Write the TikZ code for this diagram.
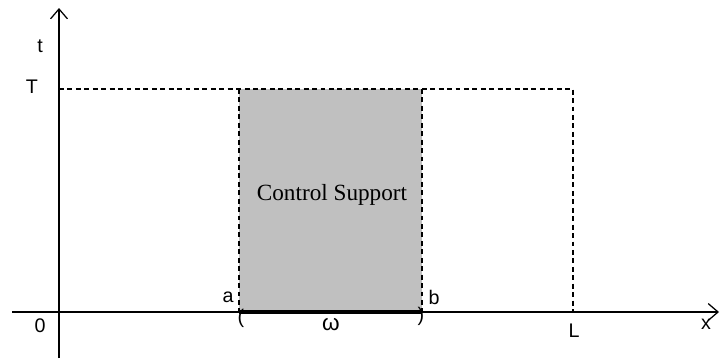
\documentclass[tikz,border=0pt]{standalone}
\usepackage{fontspec}
\usepackage{tikz}
\usetikzlibrary{arrows.meta}
\setmainfont{Liberation Sans}
\newfontfamily\suppfont{Liberation Serif}
\definecolor{suppgray}{RGB}{192,192,192}

\begin{document}
\begin{tikzpicture}[x=0.025cm,y=-0.025cm,
    axis/.style={line width=0.9pt,-{Straight Barb[length=7pt,width=12pt,line width=0.9pt]}},
    guide/.style={line width=0.8pt,dash pattern=on 3.5pt off 2.5pt},
    lbl/.style={font=\fontsize{14}{16}\selectfont,inner sep=0pt}]
    \useasboundingbox (0,0) rectangle (720,358);
    % corners of the support
    \coordinate (a) at (239,312);
    \coordinate (b) at (422,312);
    \coordinate (aT) at (239,89);
    \coordinate (bT) at (422,89);
    \coordinate (L) at (573,312);
    \coordinate (LT) at (573,89);
    \coordinate (tT) at (59,89);
    \fill[suppgray] (aT) rectangle (b);
    \draw[guide] (tT) -- (LT) -- (L);
    \draw[guide] (aT) -- (a);
    \draw[guide] (bT) -- (b);
    % axes
    \coordinate (xs) at (12,312);
    \coordinate (xe) at (719,312);
    \coordinate (ys) at (59,358);
    \coordinate (ye) at (59,8);
    \draw[axis] (xs) -- (xe);
    \draw[axis] (ys) -- (ye);
    \draw[line width=3.2pt] (a) -- (b);
    % labels
    \node[lbl] (tlab) at (40,46) {t};
    \node[lbl] (Tlab) at (32,87) {T};
    \node[lbl] (olab) at (40,326) {0};
    \node[lbl] (alab) at (228,297) {a};
    \node[lbl] (blab) at (434,297) {b};
    \node[lbl,font=\fontsize{16}{18}\selectfont] (wlab) at (331,325) {ω};
    \node[lbl] (Llab) at (574,331) {L};
    \node[lbl] (xlab) at (706,324) {x};
    \node[lbl] (lpar) at (241,318) {(};
    \node[lbl] (rpar) at (421,316) {)};
    \node[inner sep=0pt,font=\suppfont\fontsize{16.5}{18}\selectfont] (supp) at (332,195) {Control Support};
\end{tikzpicture}
\end{document}
